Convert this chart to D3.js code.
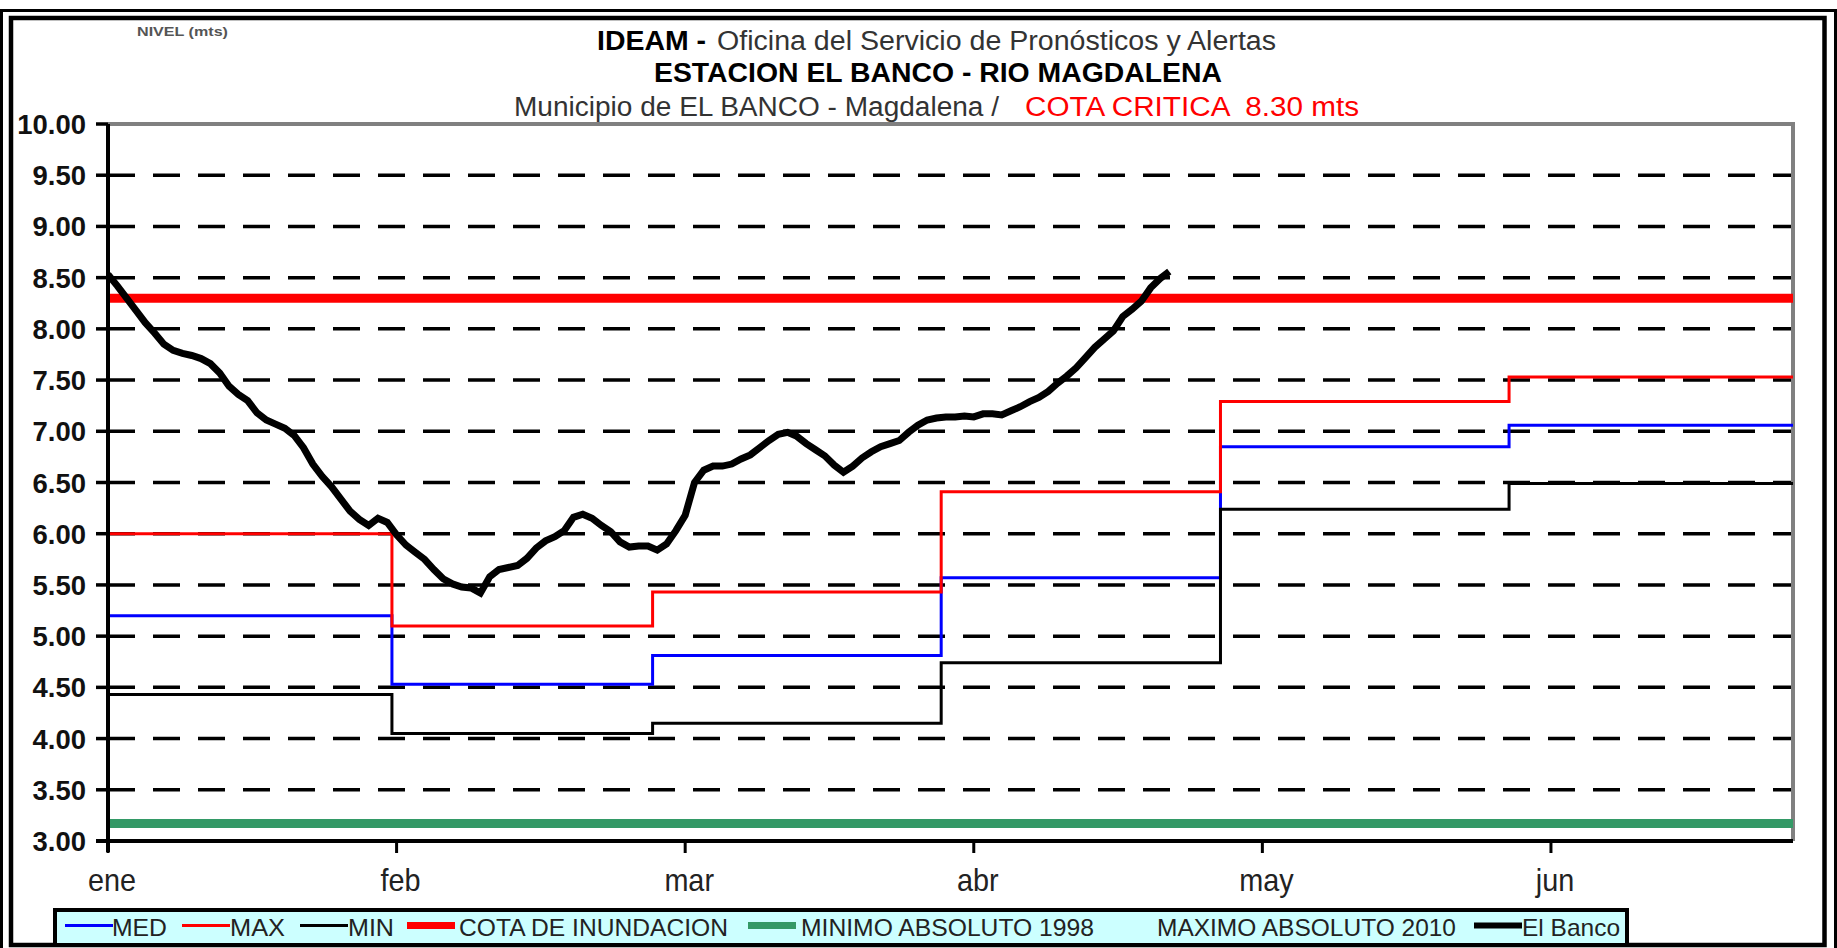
<!DOCTYPE html>
<html>
<head>
<meta charset="utf-8">
<script src="https://cdn.jsdelivr.net/npm/d3@7"></script>
<style>
  body { margin: 0; background: #fff; }
  svg { display: block; }
  text { font-family: "Liberation Sans", Arial, sans-serif; white-space: pre; }
</style>
</head>
<body>
<script>
// category axis: 181 days (ene-jun), a tick label every 31 days
const monthLabels = ["ene", "feb", "mar", "abr", "may", "jun"];
const monthTicks = [0, 31, 62, 93, 124, 155];
const monthStarts = [0, 31, 59, 90, 120, 151];
const totalDays = 181;

// monthly statistics (m)
const medValues = [5.20, 4.53, 4.81, 5.57, 6.85, 7.06];
const maxValues = [6.00, 5.10, 5.43, 6.41, 7.29, 7.53];
const minValues = [4.43, 4.05, 4.15, 4.74, 6.24, 6.49];

const cotaInundacion = 8.30;
const minimoAbsoluto1998 = 3.17;

const yTicks = d3.range(3, 10.01, 0.5);

// daily level, El Banco, from 1 ene
const elBanco = [
  8.53, 8.42, 8.30, 8.18, 8.06, 7.96, 7.85, 7.79, 7.76, 7.74,
  7.71, 7.66, 7.57, 7.44, 7.36, 7.30, 7.18, 7.11, 7.07, 7.03,
  6.96, 6.84, 6.68, 6.56, 6.46, 6.34, 6.22, 6.14, 6.08, 6.15,
  6.11, 5.99, 5.89, 5.82, 5.75, 5.65, 5.56, 5.51, 5.48, 5.47,
  5.42, 5.58, 5.65, 5.67, 5.69, 5.76, 5.86, 5.93, 5.97, 6.03,
  6.16, 6.19, 6.15, 6.08, 6.02, 5.92, 5.87, 5.88, 5.88, 5.84,
  5.90, 6.03, 6.18, 6.50, 6.62, 6.66, 6.66, 6.68, 6.73, 6.77,
  6.84, 6.91, 6.97, 6.99, 6.95, 6.88, 6.82, 6.76, 6.67, 6.60,
  6.66, 6.74, 6.80, 6.85, 6.88, 6.91, 6.99, 7.06, 7.11, 7.13,
  7.14, 7.14, 7.15, 7.14, 7.17, 7.17, 7.16, 7.20, 7.24, 7.29,
  7.33, 7.39, 7.47, 7.54, 7.62, 7.72, 7.82, 7.90, 7.98, 8.12,
  8.19, 8.27, 8.40, 8.49, 8.56
];

const legendItems = [
  { name: "MED", color: "#0000ff", width: 3, x: 65, tx: 112, tw: 55 },
  { name: "MAX", color: "#ff0000", width: 3, x: 182, tx: 230, tw: 55 },
  { name: "MIN", color: "#000000", width: 3, x: 300, tx: 348, tw: 46 },
  { name: "COTA DE INUNDACION", color: "#ff0000", width: 7, x: 407, tx: 459, tw: 269 },
  { name: "MINIMO ABSOLUTO 1998", color: "#339966", width: 7, x: 748, tx: 801, tw: 293 },
  { name: "MAXIMO ABSOLUTO 2010", color: "none", width: 0, x: 1108, tx: 1157, tw: 299 },
  { name: "El Banco", color: "#000000", width: 6, x: 1474, tx: 1522, tw: 98 }
];

const W = 1837, H = 948;
const svg = d3.select("body").append("svg")
  .attr("width", W)
  .attr("height", H);

// double frame
svg.append("rect").attr("x", 1.5).attr("y", 10.5).attr("width", 1834).attr("height", 945)
  .attr("fill", "none").attr("stroke", "#000").attr("stroke-width", 3);
svg.append("rect").attr("x", 11).attr("y", 18).attr("width", 1813.5).attr("height", 927)
  .attr("fill", "none").attr("stroke", "#000").attr("stroke-width", 4.5);

const x = d3.scaleLinear().domain([0, totalDays]).range([108, 1793]);
const y = d3.scaleLinear().domain([3, 10]).range([841, 124]);

// squeeze a text to a share of its natural width (the source font is narrow and tall)
function condense(sel, k) {
  sel.each(function () {
    const w = this.getComputedTextLength();
    d3.select(this).attr("textLength", w * k).attr("lengthAdjust", "spacingAndGlyphs");
  });
}

// titles
function title(tx, ty, w, size, weight, fill, str) {
  svg.append("text").attr("x", tx).attr("y", ty)
    .attr("textLength", w).attr("lengthAdjust", "spacingAndGlyphs")
    .style("font-size", size + "px").style("font-weight", weight).style("fill", fill)
    .text(str);
}
title(137, 36, 91, 12, "bold", "#555", "NIVEL (mts)");
title(597, 50, 109, 27, "bold", "#000", "IDEAM -");
title(717, 50, 559, 27, "normal", "#333", "Oficina del Servicio de Pronósticos y Alertas");
title(654, 82, 568, 27, "bold", "#000", "ESTACION EL BANCO - RIO MAGDALENA");
title(514, 116, 485, 27, "normal", "#333", "Municipio de EL BANCO - Magdalena /");
title(1025, 116, 334, 27, "normal", "#ff0000", "COTA CRITICA  8.30 mts");

// dashed gridlines
svg.selectAll(".grid")
  .data(yTicks.filter(v => v > 3 && v < 10))
  .enter().append("line")
  .attr("class", "grid")
  .attr("x1", x(0)).attr("x2", x(totalDays))
  .attr("y1", d => y(d)).attr("y2", d => y(d))
  .attr("stroke", "#000").attr("stroke-width", 3.5)
  .attr("stroke-dasharray", "27,18");

// plot border (top, right)
svg.append("path")
  .attr("d", `M${x(0)},${y(10)}H${x(totalDays)}V${y(3)}`)
  .attr("fill", "none").attr("stroke", "#808080").attr("stroke-width", 4);

// monthly step series
function stepPoints(vals) {
  const pts = [];
  vals.forEach((v, i) => {
    const end = i < vals.length - 1 ? monthStarts[i + 1] - 1 : totalDays;
    pts.push([monthStarts[i], v], [end, v]);
  });
  return pts;
}
const stepLine = d3.line().x(d => x(d[0])).y(d => y(d[1])).curve(d3.curveStep);

[[medValues, "#0000ff"], [maxValues, "#ff0000"], [minValues, "#000000"]].forEach(([vals, col]) => {
  svg.append("path")
    .attr("d", stepLine(stepPoints(vals)))
    .attr("fill", "none").attr("stroke", col).attr("stroke-width", 3);
});

// constant levels
svg.append("line")
  .attr("x1", x(0) - 2).attr("x2", x(totalDays))
  .attr("y1", y(cotaInundacion)).attr("y2", y(cotaInundacion))
  .attr("stroke", "#ff0000").attr("stroke-width", 9);
svg.append("line")
  .attr("x1", x(0) - 2).attr("x2", x(totalDays))
  .attr("y1", y(minimoAbsoluto1998)).attr("y2", y(minimoAbsoluto1998))
  .attr("stroke", "#339966").attr("stroke-width", 9);

// El Banco daily level
svg.append("path")
  .datum(elBanco)
  .attr("d", d3.line().x((d, i) => x(i)).y(d => y(d)))
  .attr("fill", "none").attr("stroke", "#000").attr("stroke-width", 7);

// y axis
const yAxis = svg.append("g");
yAxis.append("line").attr("x1", x(0)).attr("x2", x(0))
  .attr("y1", y(10)).attr("y2", y(3) + 11)
  .attr("stroke", "#000").attr("stroke-width", 4);
yAxis.selectAll(".ytick").data(yTicks).enter().append("line")
  .attr("x1", 96).attr("x2", x(0))
  .attr("y1", d => y(d)).attr("y2", d => y(d))
  .attr("stroke", "#000").attr("stroke-width", 3.5);
yAxis.selectAll(".ylabel").data(yTicks).enter().append("text")
  .attr("x", 86).attr("y", d => y(d) + 10)
  .attr("text-anchor", "end")
  .style("font-size", "28px").style("font-weight", "bold").style("fill", "#111")
  .text(d => d3.format(".2f")(d))
  .call(condense, 0.98);

// x axis
const xAxis = svg.append("g");
xAxis.append("line").attr("x1", 96).attr("x2", x(totalDays))
  .attr("y1", y(3)).attr("y2", y(3))
  .attr("stroke", "#000").attr("stroke-width", 4);
xAxis.selectAll(".xtick").data(monthTicks).enter().append("line")
  .attr("x1", d => x(d)).attr("x2", d => x(d))
  .attr("y1", y(3)).attr("y2", y(3) + 12)
  .attr("stroke", "#000").attr("stroke-width", 3);
xAxis.selectAll(".xlabel").data(monthLabels).enter().append("text")
  .attr("x", (d, i) => x(monthTicks[i]) + 4).attr("y", 891)
  .attr("text-anchor", "middle")
  .style("font-size", "32px").style("fill", "#222")
  .text(d => d)
  .call(condense, 0.9);

// legend
const legend = svg.append("g");
legend.append("rect").attr("x", 55).attr("y", 910).attr("width", 1572).attr("height", 35)
  .attr("fill", "#ccffff").attr("stroke", "#000").attr("stroke-width", 4);
const li = legend.selectAll(".li").data(legendItems).enter().append("g");
li.append("line")
  .attr("x1", d => d.x).attr("x2", d => d.x + 48)
  .attr("y1", 925.5).attr("y2", 925.5)
  .attr("stroke", d => d.color).attr("stroke-width", d => d.width);
li.append("text")
  .attr("x", d => d.tx).attr("y", 936)
  .attr("textLength", d => d.tw).attr("lengthAdjust", "spacingAndGlyphs")
  .style("font-size", "24px").style("fill", "#222")
  .text(d => d.name);
</script>
</body>
</html>
